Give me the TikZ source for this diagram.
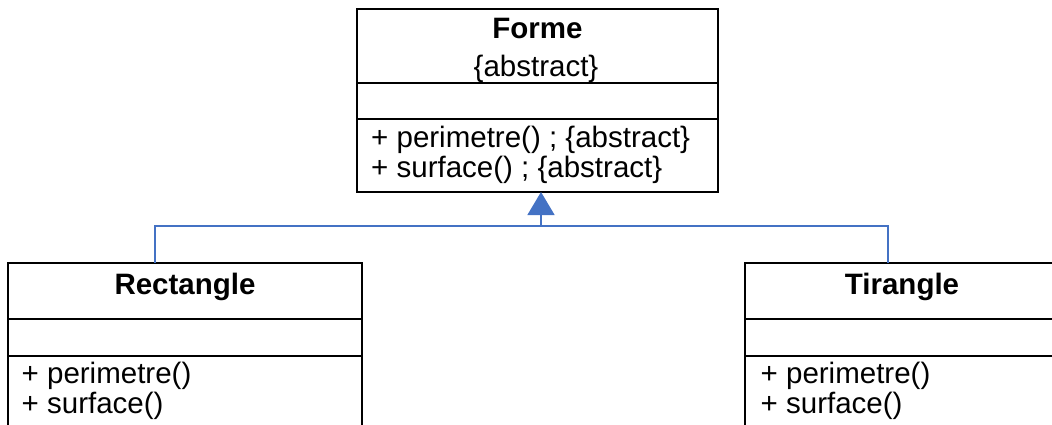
\documentclass[tikz,border=0pt]{standalone}
\usepackage{fontspec}
\setmainfont{Liberation Sans}
\usepackage{tikz}
\usetikzlibrary{arrows.meta, positioning}
\usepackage{xcolor}
\definecolor{umlblue}{HTML}{4472C4}

\begin{document}
\begin{tikzpicture}[x=1pt, y=-1pt,
    font=\fontsize{29.5}{30}\selectfont,
    compart/.style={draw, line width=2.2pt, inner sep=0pt, outer sep=0pt, anchor=north west},
    title/.style={anchor=base, inner sep=0pt, font=\fontsize{29.5}{30}\selectfont\bfseries},
    opslist/.style={anchor=north west, inner sep=0pt, align=left},
    genline/.style={draw=umlblue, line width=1.5pt},
  ]
    \useasboundingbox (0,0) rectangle (1052,425);
    \clip (0,0) rectangle (1052,425);

    % abstract parent class
    \node[compart, minimum width=361, minimum height=74] (formeHead) at (357,9) {};
    \node[compart, minimum width=361, minimum height=36] (formeAttr) at (formeHead.south west) {};
    \node[compart, minimum width=361, minimum height=73] (formeOps) at (formeAttr.south west) {};
    \node[title] (formeName) at (537.5,39) {Forme};
    \node[anchor=base, inner sep=0pt] (formeTag) at (536,77) {\{abstract\}};
    \node[opslist] (formeOpsTxt) at (371,125.5)
      {+ perimetre() ; \{abstract\}\\+ surface() ; \{abstract\}};

    % subclasses
    \node[compart, minimum width=354, minimum height=56] (rectHead) at (8,263) {};
    \node[compart, minimum width=354, minimum height=37] (rectAttr) at (rectHead.south west) {};
    \node[compart, minimum width=354, minimum height=100] (rectOps) at (rectAttr.south west) {};
    \node[title] (rectName) at (185,294) {Rectangle};
    \node[opslist] (rectOpsTxt) at (21.5,361.5) {+ perimetre()\\+ surface()};

    \node[compart, minimum width=314, minimum height=56] (triHead) at (745,263) {};
    \node[compart, minimum width=314, minimum height=37] (triAttr) at (triHead.south west) {};
    \node[compart, minimum width=314, minimum height=100] (triOps) at (triAttr.south west) {};
    \node[title] (triName) at (902,294) {Tirangle};
    \node[opslist] (triOpsTxt) at (760.5,361.5) {+ perimetre()\\+ surface()};

    % generalisation
    \coordinate (join) at (541,226);
    \draw[genline] ([xshift=-30pt]rectHead.north) |- (join) -| ([xshift=-14pt]triHead.north);
    \draw[genline, -{Triangle[width=27pt, length=23pt]}] (join) -- (join |- formeOps.south);
  \end{tikzpicture}
\end{document}
